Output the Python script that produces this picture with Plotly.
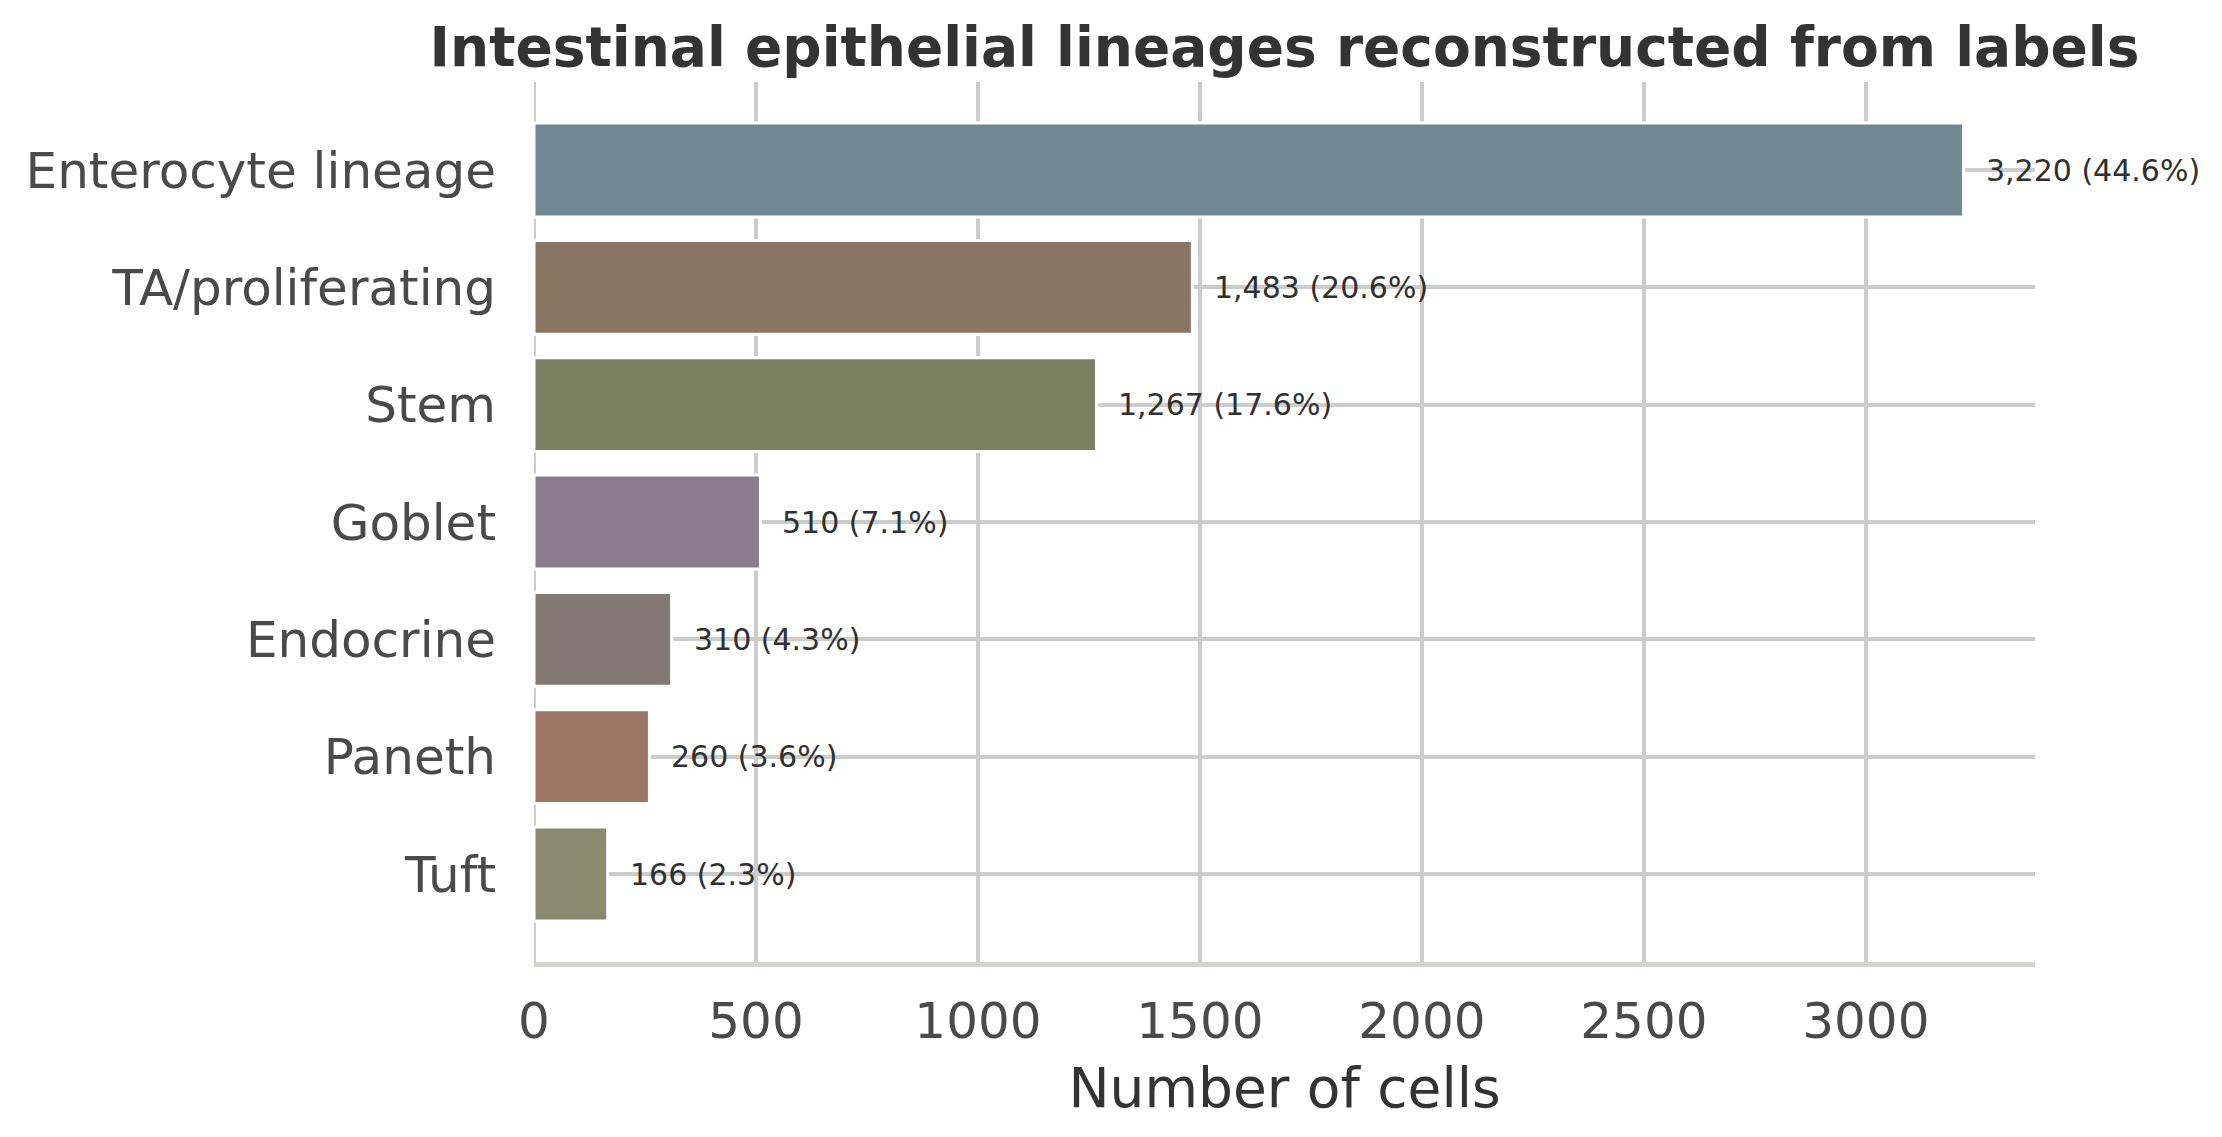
import plotly.graph_objects as go

# cell counts per lineage
lineages = ["Enterocyte lineage", "TA/proliferating", "Stem", "Goblet",
            "Endocrine", "Paneth", "Tuft"]
counts = [3220, 1483, 1267, 510, 310, 260, 166]
percents = [44.6, 20.6, 17.6, 7.1, 4.3, 3.6, 2.3]
colors = ["#6f8790", "#8a7563", "#7b8062", "#8a7b8e",
          "#857975", "#9a7764", "#8a8a70"]
xticks = [0, 500, 1000, 1500, 2000, 2500, 3000]

# page body has an 8px margin, so the figure is 8px smaller than the window
W, H = 2214, 1129

fig = go.Figure()
fig.add_trace(go.Bar(
    y=lineages, x=counts, orientation="h",
    marker=dict(color=colors, line=dict(color="white", width=3)),
    width=0.8, hoverinfo="skip",
))

for name, n, p in zip(lineages, counts, percents):
    fig.add_annotation(
        x=n, y=name, text=f"{n:,} ({p}%)", showarrow=False,
        xanchor="left", xshift=20,
        font=dict(family="DejaVu Sans", size=30, color="#303030"),
    )

# gridline at x=0 (plotly skips the one on the range edge)
fig.add_shape(type="line", xref="x", yref="paper", x0=0, x1=0, y0=0, y1=1,
              line=dict(color="#cccccc", width=4), layer="below")

font = "DejaVu Sans"
fig.update_layout(
    width=W, height=H,
    margin=dict(l=526, r=187, t=74, b=175),
    plot_bgcolor="white", paper_bgcolor="white",
    showlegend=False, bargap=0.2,
    title=dict(text="<b>Intestinal epithelial lineages reconstructed from labels</b>",
               x=(526 + W - 187) / 2 / W, xanchor="center",
               y=1 - 39 / H, yanchor="middle",
               font=dict(family=font, size=55, color="#333333")),
)
fig.update_xaxes(
    range=[0, 3381], tickvals=xticks, ticktext=[str(t) for t in xticks],
    showgrid=True, gridcolor="#cccccc", gridwidth=4, zeroline=False,
    showline=True, linecolor="#d6d4cd", linewidth=5,
    ticks="", ticklabelstandoff=11,
    tickfont=dict(family=font, size=50, color="#4a4a4a"),
    title=dict(text="Number of cells", standoff=21,
               font=dict(family=font, size=55, color="#333333")),
)
fig.update_yaxes(
    range=[6.75, -0.75], categoryorder="array", categoryarray=lineages,
    showgrid=True, gridcolor="#cccccc", gridwidth=4, zeroline=False,
    showline=False, ticks="", ticklabelstandoff=37,
    tickfont=dict(family=font, size=50, color="#4a4a4a"),
)

fig.write_html("out.html")
